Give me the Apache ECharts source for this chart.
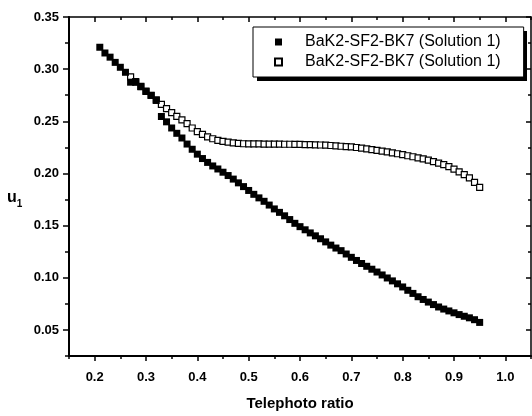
<!DOCTYPE html>
<html>
<head>
<meta charset="utf-8">
<style type="text/css">
body { margin: 0; background: #fff; }
#chart { width: 532px; height: 416px; }
</style>
<script type="text/javascript" src="https://cdn.jsdelivr.net/npm/echarts@6/dist/echarts.min.js"></script>
</head>
<body>
<div id="chart"></div>
<script type="text/javascript">
// telephoto ratio, one marker every 0.01
var ratio = [0.21, 0.22, 0.23, 0.24, 0.25, 0.26, 0.27, 0.28, 0.29, 0.30,
	0.31, 0.32, 0.33, 0.34, 0.35, 0.36, 0.37, 0.38, 0.39, 0.40,
	0.41, 0.42, 0.43, 0.44, 0.45, 0.46, 0.47, 0.48, 0.49, 0.50,
	0.51, 0.52, 0.53, 0.54, 0.55, 0.56, 0.57, 0.58, 0.59, 0.60,
	0.61, 0.62, 0.63, 0.64, 0.65, 0.66, 0.67, 0.68, 0.69, 0.70,
	0.71, 0.72, 0.73, 0.74, 0.75, 0.76, 0.77, 0.78, 0.79, 0.80,
	0.81, 0.82, 0.83, 0.84, 0.85, 0.86, 0.87, 0.88, 0.89, 0.90,
	0.91, 0.92, 0.93, 0.94, 0.95];

// filled squares
var u1Filled = [0.3210, 0.3155, 0.3115, 0.3065, 0.3018, 0.2970, 0.2875, 0.2874, 0.2831, 0.2786,
	0.2748, 0.2700, 0.2546, 0.2495, 0.2436, 0.2385, 0.2340, 0.2282, 0.2232, 0.2185,
	0.2143, 0.2106, 0.2072, 0.2043, 0.2012, 0.1980, 0.1946, 0.1910, 0.1874, 0.1837,
	0.1800, 0.1766, 0.1733, 0.1697, 0.1660, 0.1627, 0.1594, 0.1558, 0.1522, 0.1490,
	0.1460, 0.1430, 0.1402, 0.1374, 0.1344, 0.1313, 0.1285, 0.1260, 0.1228, 0.1196,
	0.1166, 0.1137, 0.1110, 0.1082, 0.1055, 0.1027, 0.0998, 0.0970, 0.0942, 0.0912,
	0.0880, 0.0850, 0.0818, 0.0792, 0.0767, 0.0743, 0.0720, 0.0700, 0.0682, 0.0664,
	0.0647, 0.0631, 0.0616, 0.0598, 0.0572];

// open squares (start at 0.27)
var u1Open = [null, null, null, null, null, null, 0.2926, 0.2880, 0.2835, 0.2790,
	0.2750, 0.2705, 0.2663, 0.2622, 0.2584, 0.2547, 0.2514, 0.2478, 0.2436, 0.2402,
	0.2375, 0.2351, 0.2333, 0.2318, 0.2307, 0.2300, 0.2293, 0.2288, 0.2285, 0.2284,
	0.2283, 0.2283, 0.2282, 0.2282, 0.2281, 0.2281, 0.2280, 0.2280, 0.2279, 0.2278,
	0.2277, 0.2276, 0.2275, 0.2273, 0.2271, 0.2268, 0.2265, 0.2261, 0.2258, 0.2254,
	0.2249, 0.2243, 0.2236, 0.2229, 0.2222, 0.2214, 0.2206, 0.2197, 0.2189, 0.2180,
	0.2170, 0.2160, 0.2150, 0.2139, 0.2127, 0.2113, 0.2099, 0.2084, 0.2065, 0.2042,
	0.2015, 0.1988, 0.1958, 0.1915, 0.1866];

var legendLabels = {
	filled: 'BaK2-SF2-BK7 (Solution 1)',
	open: 'BaK2-SF2-BK7 (Solution 1)'
};

var xMajor = [0.2, 0.3, 0.4, 0.5, 0.6, 0.7, 0.8, 0.9, 1.0];
var xMinor = [0.15, 0.25, 0.35, 0.45, 0.55, 0.65, 0.75, 0.85, 0.95, 1.05];
var yMajor = [0.05, 0.10, 0.15, 0.20, 0.25, 0.30, 0.35];
var yMinor = [0.025, 0.075, 0.125, 0.175, 0.225, 0.275, 0.325];

var FONT = '"Liberation Sans", Arial, sans-serif';

function pairs(ys) {
	var out = [];
	for (var i = 0; i < ratio.length; i++) {
		if (ys[i] != null) out.push([ratio[i], ys[i]]);
	}
	return out;
}

// one axis per tick set: origin style frame, ticks out on left/bottom, in on top/right
function xAx(pos, ticks, len, inside, lineW, labels) {
	return {
		type: 'value', position: pos, min: 0.15, max: 1.05,
		axisLine: { show: lineW > 0, onZero: false, lineStyle: { color: '#000', width: lineW } },
		axisTick: { show: true, inside: inside, length: len, customValues: ticks,
			lineStyle: { color: '#000', width: 1.5 } },
		axisLabel: labels ? {
			customValues: labels, margin: 15, color: '#000',
			fontFamily: FONT, fontWeight: 'bold', fontSize: 13,
			formatter: function (v) { return v.toFixed(1); }
		} : { show: false },
		splitLine: { show: false }
	};
}
function yAx(pos, ticks, len, inside, lineW, labels) {
	return {
		type: 'value', position: pos, min: 0.025, max: 0.35,
		axisLine: { show: lineW > 0, onZero: false, lineStyle: { color: '#000', width: lineW } },
		axisTick: { show: true, inside: inside, length: len, customValues: ticks,
			lineStyle: { color: '#000', width: 1.5 } },
		axisLabel: labels ? {
			customValues: labels, margin: 10, color: '#000',
			fontFamily: FONT, fontWeight: 'bold', fontSize: 13,
			formatter: function (v) { return v.toFixed(2); }
		} : { show: false },
		splitLine: { show: false }
	};
}

var xName = xAx('bottom', xMajor, 5, false, 2, xMajor);
xName.name = 'Telephoto ratio';
xName.nameLocation = 'middle';
xName.nameGap = 40;
xName.nameTextStyle = { fontFamily: FONT, fontWeight: 'bold', fontSize: 15, color: '#000' };

var chart = echarts.init(document.getElementById('chart'), null, { renderer: 'canvas' });
chart.setOption({
	animation: false,
	backgroundColor: '#fff',
	grid: { left: 69, right: 1, top: 17, bottom: 56 },
	xAxis: [
		xName,
		xAx('bottom', xMinor, 3, false, 0),
		xAx('top', xMajor, 5, true, 1.5),
		xAx('top', xMinor, 3, true, 0)
	],
	yAxis: [
		yAx('left', yMajor, 6, false, 2, yMajor),
		yAx('left', yMinor, 4, false, 0),
		yAx('right', yMajor, 5, true, 1.5),
		yAx('right', yMinor, 3, true, 0)
	],
	legend: {
		data: ['filled', 'open'],
		orient: 'vertical',
		left: 253, top: 27,
		padding: [7, 23, 7, 21],
		itemWidth: 7, itemHeight: 7, itemGap: 4,
		selectedMode: false,
		backgroundColor: '#fff',
		borderColor: '#000', borderWidth: 1,
		z: 5,
		formatter: function (name) { return legendLabels[name]; },
		textStyle: { fontFamily: FONT, fontSize: 16, color: '#000', padding: [0, 0, 0, 18] }
	},
	graphic: [{
		// drop shadow behind the legend box
		type: 'rect', z: 4,
		shape: { x: 257, y: 31, width: 270, height: 50 },
		style: { fill: '#000' }
	}, {
		type: 'text', left: 7, top: 190,
		style: {
			text: '{u|u}{s|1}',
			rich: {
				u: { fontFamily: FONT, fontWeight: 'bold', fontSize: 16, lineHeight: 22, verticalAlign: 'middle', fill: '#000' },
				s: { fontFamily: FONT, fontWeight: 'bold', fontSize: 10, lineHeight: 10, verticalAlign: 'bottom', fill: '#000' }
			}
		}
	}],
	series: [{
		name: 'open',
		type: 'scatter',
		symbol: 'rect',
		symbolSize: 6,
		itemStyle: { color: '#fff', borderColor: '#000', borderWidth: 1.2, opacity: 1 },
		emphasis: { disabled: true },
		data: pairs(u1Open),
		z: 2
	}, {
		name: 'filled',
		type: 'scatter',
		symbol: 'rect',
		symbolSize: 7,
		itemStyle: { color: '#000', opacity: 1 },
		emphasis: { disabled: true },
		data: pairs(u1Filled),
		z: 3
	}]
});
</script>
</body>
</html>
